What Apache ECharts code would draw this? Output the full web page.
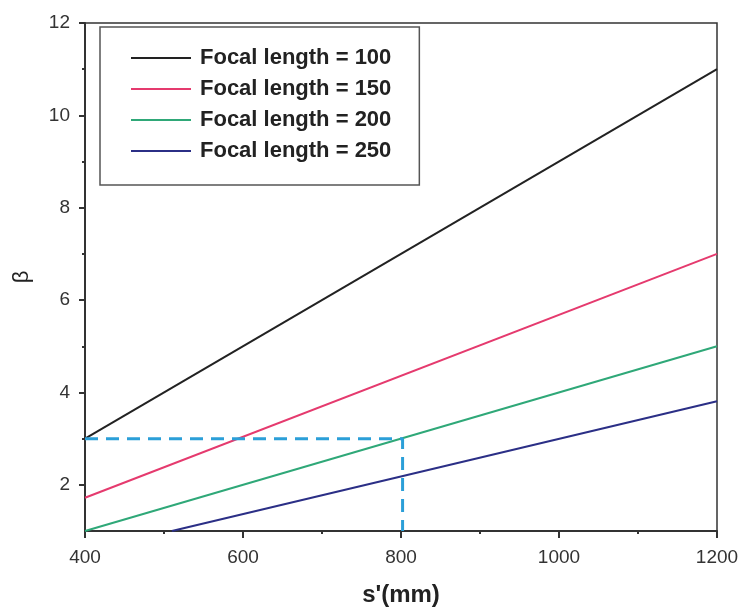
<!DOCTYPE html>
<html>
<head>
<meta charset="utf-8">
<script src="https://cdn.jsdelivr.net/npm/echarts@6/dist/echarts.min.js"></script>
<style>html,body{margin:0;padding:0;background:#fff}#c{width:742px;height:607px}</style>
</head>
<body>
<div id="c"></div>
<script>
const seriesNames = ['Focal length = 100', 'Focal length = 150', 'Focal length = 200', 'Focal length = 250'];
const f100 = [[400, 3.0], [1200, 11.0]];
const f150 = [[400, 1.72], [1200, 7.0]];
const f200 = [[400, 1.0], [1200, 5.0]];
const f250 = [[510, 1.0], [1200, 3.81]];
const guide = [[400, 3.0], [802, 3.0], [802, 1.0]];
const yMajor = [2, 4, 6, 8, 10, 12];
const yMinor = [3, 5, 7, 9, 11];
const colors = ['#222222', '#e53a6e', '#2fa878', '#2b2f86'];

const chart = echarts.init(document.getElementById('c'), null, {renderer: 'canvas'});
const font = '"Liberation Sans", Arial, sans-serif';
const axisCol = '#333';
chart.setOption({
  animation: false,
  grid: {left: 85, right: 25, top: 23, bottom: 76, show: true, borderColor: axisCol, borderWidth: 1.5,
         backgroundColor: 'transparent', containLabel: false, outerBoundsMode: 'none'},
  legend: {
    orient: 'vertical', left: 100, top: 27,
    data: seriesNames,
    icon: 'rect',
    itemWidth: 60, itemHeight: 2, itemGap: 9,
    padding: [20, 28, 23, 31],
    borderColor: '#555', borderWidth: 1.5,
    textStyle: {fontFamily: font, fontWeight: 'bold', fontSize: 22, color: '#222', padding: [0, 0, 0, 4], lineHeight: 22}
  },
  xAxis: {
    type: 'value', min: 400, max: 1200, interval: 200,
    name: "s'(mm)", nameLocation: 'middle', nameGap: 52,
    nameTextStyle: {fontFamily: font, fontWeight: 'bold', fontSize: 24, color: '#222'},
    axisLine: {lineStyle: {color: axisCol, width: 2}},
    axisTick: {show: true, inside: false, length: 7, lineStyle: {color: axisCol, width: 2}},
    minorTick: {show: true, splitNumber: 2, length: 3, lineStyle: {color: axisCol, width: 2}},
    axisLabel: {fontFamily: font, fontSize: 19, color: '#333', margin: 17, formatter: v => String(v)},
    splitLine: {show: false}
  },
  yAxis: [{
    type: 'value', min: 1, max: 12,
    name: 'β', nameLocation: 'middle', nameGap: 52, nameRotate: 90,
    nameTextStyle: {fontFamily: font, fontSize: 22, color: '#222'},
    axisLine: {show: true, lineStyle: {color: axisCol, width: 2}},
    axisTick: {show: true, length: 6, customValues: yMajor, lineStyle: {color: axisCol, width: 2}},
    axisLabel: {fontFamily: font, fontSize: 19, color: '#333', margin: 15, customValues: yMajor},
    splitLine: {show: false}
  }, {
    type: 'value', min: 1, max: 12, position: 'left',
    axisLine: {show: false},
    axisTick: {show: true, length: 3, customValues: yMinor, lineStyle: {color: axisCol, width: 2}},
    axisLabel: {show: false},
    splitLine: {show: false}
  }],
  series: [
    {name: seriesNames[0], type: 'line', data: f100, showSymbol: false, symbol: 'none', color: colors[0], lineStyle: {width: 2}},
    {name: seriesNames[1], type: 'line', data: f150, showSymbol: false, symbol: 'none', color: colors[1], lineStyle: {width: 2}},
    {name: seriesNames[2], type: 'line', data: f200, showSymbol: false, symbol: 'none', color: colors[2], lineStyle: {width: 2}},
    {name: seriesNames[3], type: 'line', data: f250, showSymbol: false, symbol: 'none', color: colors[3], lineStyle: {width: 2}},
    {name: 'guide', type: 'line', data: guide, showSymbol: false, symbol: 'none', color: '#2b9fd8', z: 3,
     lineStyle: {width: 3, type: [13, 8]}}
  ]
});
</script>
</body>
</html>
